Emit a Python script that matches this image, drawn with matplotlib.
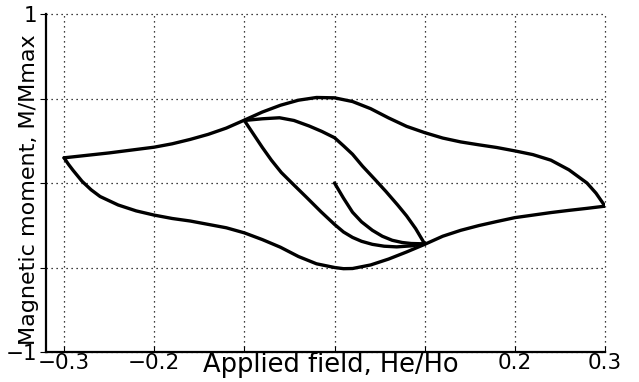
import matplotlib
matplotlib.use("Agg")
import matplotlib.pyplot as plt

# outer loop, upper branch (left to right)
upper_x = [-0.30, -0.25, -0.20, -0.18, -0.16, -0.14, -0.12, -0.10, -0.08, -0.06, -0.04,
           -0.02, 0.0, 0.02, 0.04, 0.06, 0.08, 0.10, 0.12, 0.14, 0.16, 0.18, 0.20,
           0.22, 0.24, 0.26, 0.28, 0.29, 0.30]
upper_y = [0.149, 0.178, 0.212, 0.232, 0.258, 0.288, 0.325, 0.372, 0.42, 0.46, 0.49,
           0.506, 0.504, 0.482, 0.44, 0.385, 0.335, 0.298, 0.266, 0.243, 0.226, 0.21, 0.19,
           0.168, 0.135, 0.078, 0.0, -0.06, -0.137]

# outer loop, lower branch (left to right)
lower_x = [-0.30, -0.295, -0.29, -0.28, -0.27, -0.26, -0.24, -0.22, -0.20, -0.18, -0.16,
           -0.14, -0.12, -0.10, -0.08, -0.06, -0.04, -0.02, 0.0, 0.01, 0.02, 0.04, 0.06,
           0.08, 0.10, 0.12, 0.14, 0.16, 0.18, 0.20, 0.22, 0.24, 0.26, 0.28, 0.30]
lower_y = [0.149, 0.11, 0.075, 0.01, -0.04, -0.08, -0.13, -0.165, -0.19, -0.21, -0.225,
           -0.245, -0.265, -0.295, -0.335, -0.38, -0.435, -0.478, -0.5, -0.507, -0.506, -0.485, -0.45,
           -0.408, -0.363, -0.315, -0.28, -0.252, -0.228, -0.205, -0.19, -0.175, -0.162, -0.15, -0.137]

# minor loop: curved branch from the turning point
minor_a_x = [-0.10, -0.08, -0.061, -0.045, -0.028, -0.014, 0.0, 0.01, 0.02, 0.031,
             0.045, 0.057, 0.07, 0.08, 0.09, 0.10]
minor_a_y = [0.37, 0.38, 0.386, 0.37, 0.337, 0.305, 0.268, 0.22, 0.17, 0.1,
             0.02, -0.05, -0.13, -0.195, -0.27, -0.36]

# minor loop: straight branch from the turning point
minor_b_x = [-0.10, -0.09, -0.08, -0.07, -0.059, -0.045, -0.031, -0.015, 0.0, 0.01,
             0.02, 0.03, 0.042, 0.055, 0.069, 0.085, 0.10]
minor_b_y = [0.37, 0.29, 0.21, 0.135, 0.062, -0.012, -0.085, -0.17, -0.245, -0.29,
             -0.322, -0.345, -0.363, -0.374, -0.378, -0.372, -0.36]

# initial curve from the origin
virgin_x = [0.0, 0.01, 0.02, 0.03, 0.042, 0.053, 0.064, 0.075, 0.085, 0.10]
virgin_y = [0.0, -0.09, -0.173, -0.23, -0.28, -0.315, -0.339, -0.352, -0.358, -0.36]

x_ticks = [-0.3, -0.2, -0.1, 0.0, 0.1, 0.2, 0.3]
x_tick_labels = ["\u22120.3", "\u22120.2", "", "", "", "0.2", "0.3"]
y_ticks = [-1, -0.5, 0, 0.5, 1]
y_tick_labels = ["\u22121", "", "", "", "1"]

plt.rcParams["font.family"] = ["DejaVu Sans"]

fig = plt.figure(figsize=(6.39, 3.82), dpi=100)
ax = fig.add_axes([46 / 639, 1 - 352 / 382, 559 / 639, 338 / 382])

for xs, ys in [(upper_x, upper_y), (lower_x, lower_y), (minor_a_x, minor_a_y),
               (minor_b_x, minor_b_y), (virgin_x, virgin_y)]:
    ax.plot(xs, ys, color="black", linewidth=2.4, solid_joinstyle="round",
            solid_capstyle="round")

ax.set_xlim(-0.32, 0.3)
ax.set_ylim(-1, 1)
ax.set_xticks(x_ticks)
ax.set_xticklabels(x_tick_labels, fontsize=15.5)
ax.set_yticks(y_ticks)
ax.set_yticklabels(y_tick_labels, fontsize=15.5)
ax.tick_params(axis="x", direction="in", length=4, pad=1)
ax.tick_params(axis="y", direction="out", length=4, pad=2)

ax.grid(True, linestyle=(0, (1, 3)), color="black", linewidth=0.9)
for g in ax.get_xgridlines() + ax.get_ygridlines():
    g.set_clip_on(False)

ax.spines["top"].set_visible(False)
ax.spines["right"].set_visible(False)
ax.spines["left"].set_linewidth(1.6)
ax.spines["bottom"].set_linewidth(1.6)

ax.set_xlabel("Applied field, He/Ho", fontsize=18.5)
ax.xaxis.set_label_coords(0.51, -0.0)
ax.set_ylabel("Magnetic moment, M/Mmax", fontsize=16)
ax.yaxis.set_label_coords(-0.013, 0.48)

fig.savefig("out.png", dpi=100)
